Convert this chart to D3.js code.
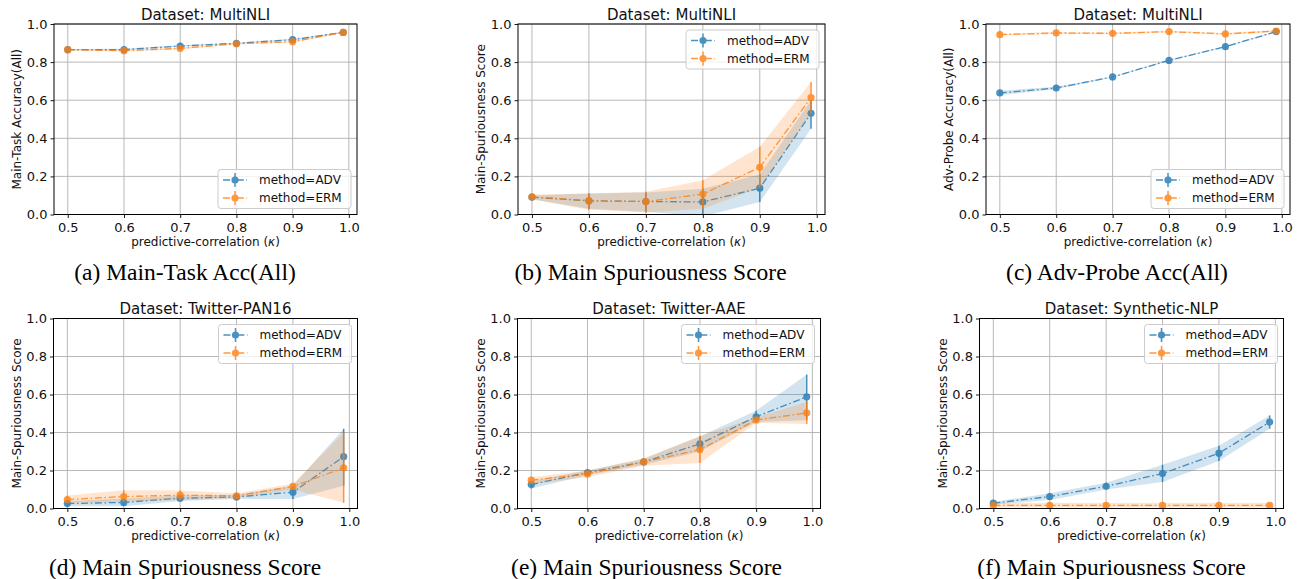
<!DOCTYPE html>
<html>
<head>
<meta charset="utf-8">
<script src="https://cdn.jsdelivr.net/npm/d3@7"></script>
<style>
  html, body { margin: 0; padding: 0; background: #fff; }
  svg { display: block; }
</style>
</head>
<body>
<svg id="fig" width="1297" height="579"></svg>
<script>
// Shared axes values
const kappa = [0.5, 0.6, 0.7, 0.8, 0.9, 0.99];
const xTicks = [0.5, 0.6, 0.7, 0.8, 0.9, 1.0];
const yTicks = [0.0, 0.2, 0.4, 0.6, 0.8, 1.0];
const methods = ["method=ADV", "method=ERM"];

// (a) MultiNLI main-task accuracy
const advA   = [0.865, 0.866, 0.884, 0.899, 0.918, 0.956];
const advALo = [0.861, 0.862, 0.880, 0.896, 0.914, 0.953];
const advAHi = [0.869, 0.870, 0.888, 0.902, 0.922, 0.959];
const ermA   = [0.865, 0.860, 0.872, 0.896, 0.907, 0.956];
const ermALo = [0.861, 0.856, 0.868, 0.893, 0.903, 0.953];
const ermAHi = [0.869, 0.864, 0.876, 0.899, 0.911, 0.959];

// (b) MultiNLI main spuriousness
const advB   = [0.091, 0.072, 0.068, 0.066, 0.138, 0.531];
const advBLo = [0.080, 0.030, 0.015, -0.010, 0.065, 0.450];
const advBHi = [0.100, 0.110, 0.115, 0.135, 0.210, 0.600];
const ermB   = [0.093, 0.072, 0.068, 0.107, 0.248, 0.614];
const ermBLo = [0.080, 0.025, 0.010, 0.030, 0.140, 0.530];
const ermBHi = [0.105, 0.110, 0.120, 0.180, 0.355, 0.695];

// (c) MultiNLI adversarial probe accuracy
const advC   = [0.638, 0.664, 0.722, 0.809, 0.881, 0.960];
const advCLo = [0.626, 0.658, 0.719, 0.806, 0.878, 0.957];
const advCHi = [0.650, 0.670, 0.725, 0.812, 0.884, 0.963];
const ermC   = [0.944, 0.953, 0.951, 0.960, 0.948, 0.963];
const ermCLo = [0.939, 0.948, 0.946, 0.955, 0.943, 0.958];
const ermCHi = [0.949, 0.958, 0.956, 0.965, 0.953, 0.968];

// (d) Twitter-PAN16 main spuriousness
const advD   = [0.026, 0.032, 0.054, 0.061, 0.086, 0.273];
const advDLo = [0.012, 0.012, 0.040, 0.050, 0.050, 0.120];
const advDHi = [0.040, 0.052, 0.068, 0.072, 0.120, 0.420];
const ermD   = [0.047, 0.063, 0.070, 0.067, 0.116, 0.214];
const ermDLo = [0.028, 0.035, 0.045, 0.055, 0.100, 0.030];
const ermDHi = [0.068, 0.096, 0.095, 0.080, 0.130, 0.400];

// (e) Twitter-AAE main spuriousness
const advE   = [0.126, 0.189, 0.245, 0.340, 0.483, 0.588];
const advELo = [0.105, 0.175, 0.230, 0.300, 0.455, 0.465];
const advEHi = [0.145, 0.200, 0.260, 0.380, 0.515, 0.705];
const ermE   = [0.149, 0.182, 0.245, 0.310, 0.466, 0.503];
const ermELo = [0.130, 0.165, 0.225, 0.240, 0.450, 0.445];
const ermEHi = [0.165, 0.200, 0.265, 0.380, 0.480, 0.560];

// (f) Synthetic-NLP main spuriousness
const advF   = [0.028, 0.063, 0.117, 0.184, 0.291, 0.455];
const advFLo = [0.020, 0.045, 0.100, 0.140, 0.250, 0.420];
const advFHi = [0.035, 0.080, 0.135, 0.230, 0.330, 0.490];
const ermF   = [0.016, 0.016, 0.016, 0.016, 0.016, 0.016];
const ermFLo = [0.005, 0.005, 0.005, 0.005, 0.005, 0.005];
const ermFHi = [0.030, 0.030, 0.030, 0.030, 0.030, 0.030];

const COLORS = ["#1f77b4", "#ff7f0e"];
const SANS = "'DejaVu Sans', sans-serif";
const SERIF = "'Liberation Serif', 'Times New Roman', serif";

function series(m, lo, hi) {
  return kappa.map((k, i) => ({ k, m: m[i], lo: lo[i], hi: hi[i] }));
}

const panels = [
  { box: { l: 54, t: 24, r: 357, b: 214.5 }, title: "Dataset: MultiNLI",
    ylabel: "Main-Task Accuracy(All)", caption: "(a) Main-Task Acc(All)", capX: 185, capY: 279.5,
    legend: "lower", data: [series(advA, advALo, advAHi), series(ermA, ermALo, ermAHi)] },
  { box: { l: 518, t: 24, r: 825, b: 214.5 }, title: "Dataset: MultiNLI",
    ylabel: "Main-Spuriousness Score", caption: "(b) Main Spuriousness Score", capX: 650.5, capY: 279.5,
    legend: "upper", data: [series(advB, advBLo, advBHi), series(ermB, ermBLo, ermBHi)] },
  { box: { l: 986, t: 24, r: 1290, b: 214.5 }, title: "Dataset: MultiNLI",
    ylabel: "Adv-Probe Accuracy(All)", caption: "(c) Adv-Probe Acc(All)", capX: 1117, capY: 279.5,
    legend: "lower", data: [series(advC, advCLo, advCHi), series(ermC, ermCLo, ermCHi)] },
  { box: { l: 53.5, t: 318.5, r: 357.5, b: 508.5 }, title: "Dataset: Twitter-PAN16",
    ylabel: "Main-Spuriousness Score", caption: "(d) Main Spuriousness Score", capX: 185, capY: 575,
    legend: "upper", data: [series(advD, advDLo, advDHi), series(ermD, ermDLo, ermDHi)] },
  { box: { l: 517.5, t: 318.5, r: 820.5, b: 508.5 }, title: "Dataset: Twitter-AAE",
    ylabel: "Main-Spuriousness Score", caption: "(e) Main Spuriousness Score", capX: 646.5, capY: 575,
    legend: "upper", data: [series(advE, advELo, advEHi), series(ermE, ermELo, ermEHi)] },
  { box: { l: 979.5, t: 318.5, r: 1283.5, b: 508.5 }, title: "Dataset: Synthetic-NLP",
    ylabel: "Main-Spuriousness Score", caption: "(f) Main Spuriousness Score", capX: 1111.5, capY: 575,
    legend: "upper", data: [series(advF, advFLo, advFHi), series(ermF, ermFLo, ermFHi)] }
];

const svg = d3.select("#fig");
svg.append("rect").attr("width", 1297).attr("height", 579).attr("fill", "#fff");

const DASH = "7,2.6,1.6,2.6";

panels.forEach((p, pi) => {
  const { l, t, r, b } = p.box;
  const x = d3.scaleLinear().domain([0.4755, 1.0145]).range([l, r]);
  const y = d3.scaleLinear().domain([0, 1]).range([b, t]);
  const g = svg.append("g");

  // grid
  const grid = g.append("g").attr("stroke", "#b0b0b0").attr("stroke-width", 0.9);
  xTicks.forEach(v => grid.append("line").attr("x1", x(v)).attr("x2", x(v)).attr("y1", t).attr("y2", b));
  yTicks.forEach(v => grid.append("line").attr("x1", l).attr("x2", r).attr("y1", y(v)).attr("y2", y(v)));

  // clip region for data
  const clipId = "clip" + pi;
  svg.append("clipPath").attr("id", clipId)
    .append("rect").attr("x", l).attr("y", t).attr("width", r - l).attr("height", b - t);
  const plot = g.append("g").attr("clip-path", `url(#${clipId})`);

  p.data.forEach((s, si) => {
    const c = COLORS[si];
    plot.append("path").datum(s)
      .attr("d", d3.area().x(d => x(d.k)).y0(d => y(d.lo)).y1(d => y(d.hi)))
      .attr("fill", c).attr("fill-opacity", 0.2).attr("stroke", "none");
    const sg = plot.append("g").attr("opacity", 0.8);
    sg.selectAll("line.err").data(s).join("line")
      .attr("x1", d => x(d.k)).attr("x2", d => x(d.k))
      .attr("y1", d => y(d.lo)).attr("y2", d => y(d.hi))
      .attr("stroke", c).attr("stroke-width", 1.5);
    sg.append("path").datum(s)
      .attr("d", d3.line().x(d => x(d.k)).y(d => y(d.m)))
      .attr("fill", "none").attr("stroke", c).attr("stroke-width", 1.3)
      .attr("stroke-dasharray", DASH);
    sg.selectAll("circle").data(s).join("circle")
      .attr("cx", d => x(d.k)).attr("cy", d => y(d.m)).attr("r", 3.6)
      .attr("fill", c);
  });

  // axes
  const xa = g.append("g").attr("transform", `translate(0,${b})`)
    .call(d3.axisBottom(x).tickValues(xTicks).tickSize(3.5).tickPadding(4.5).tickFormat(d3.format(".1f")));
  const ya = g.append("g").attr("transform", `translate(${l},0)`)
    .call(d3.axisLeft(y).tickValues(yTicks).tickSize(3.5).tickPadding(3).tickFormat(d3.format(".1f")));
  [xa, ya].forEach(a => {
    a.select(".domain").remove();
    a.selectAll("line").attr("stroke", "#000").attr("stroke-width", 0.9);
    a.selectAll("text").attr("font-family", SANS).attr("font-size", 13).attr("fill", "#111");
  });

  // frame
  g.append("rect").attr("x", l).attr("y", t).attr("width", r - l).attr("height", b - t)
    .attr("fill", "none").attr("stroke", "#000").attr("stroke-width", 1);

  // title and axis labels
  g.append("text").attr("x", (l + r) / 2).attr("y", t - 4.5).attr("text-anchor", "middle")
    .attr("font-family", SANS).attr("font-size", 15).attr("fill", "#111").text(p.title);
  const xl = g.append("text").attr("x", (l + r) / 2).attr("y", b + 31).attr("text-anchor", "middle")
    .attr("font-family", SANS).attr("font-size", 12).attr("fill", "#111");
  xl.append("tspan").text("predictive-correlation (");
  xl.append("tspan").attr("font-style", "italic").text("\u03BA");
  xl.append("tspan").text(")");
  g.append("text").attr("transform", `translate(${l - 33},${(t + b) / 2}) rotate(-90)`)
    .attr("text-anchor", "middle").attr("font-family", SANS).attr("font-size", 12).attr("fill", "#111")
    .text(p.ylabel);

  // legend
  const lw = 133, lh = 39;
  const lx = r - 6 - lw;
  const ly = p.legend === "upper" ? t + 6 : b - 6 - lh;
  const lg = g.append("g").attr("transform", `translate(${lx},${ly})`);
  lg.append("rect").attr("width", lw).attr("height", lh).attr("rx", 3)
    .attr("fill", "#fff").attr("fill-opacity", 0.8).attr("stroke", "#cccccc").attr("stroke-width", 1);
  methods.forEach((name, i) => {
    const cy = 10.5 + i * 18;
    const hg = lg.append("g").attr("opacity", 0.8);
    hg.append("line").attr("x1", 5).attr("x2", 29).attr("y1", cy).attr("y2", cy)
      .attr("stroke", COLORS[i]).attr("stroke-width", 1.3).attr("stroke-dasharray", DASH);
    hg.append("line").attr("x1", 17).attr("x2", 17).attr("y1", cy - 7).attr("y2", cy + 7)
      .attr("stroke", COLORS[i]).attr("stroke-width", 1.5);
    hg.append("circle").attr("cx", 17).attr("cy", cy).attr("r", 3.6).attr("fill", COLORS[i]);
    lg.append("text").attr("x", 41).attr("y", cy + 4.3)
      .attr("font-family", SANS).attr("font-size", 12).attr("fill", "#111").text(name);
  });

  // caption
  svg.append("text").attr("x", p.capX).attr("y", p.capY).attr("text-anchor", "middle")
    .attr("font-family", SERIF).attr("font-size", 23.5).attr("fill", "#000").text(p.caption);
});
</script>
</body>
</html>
